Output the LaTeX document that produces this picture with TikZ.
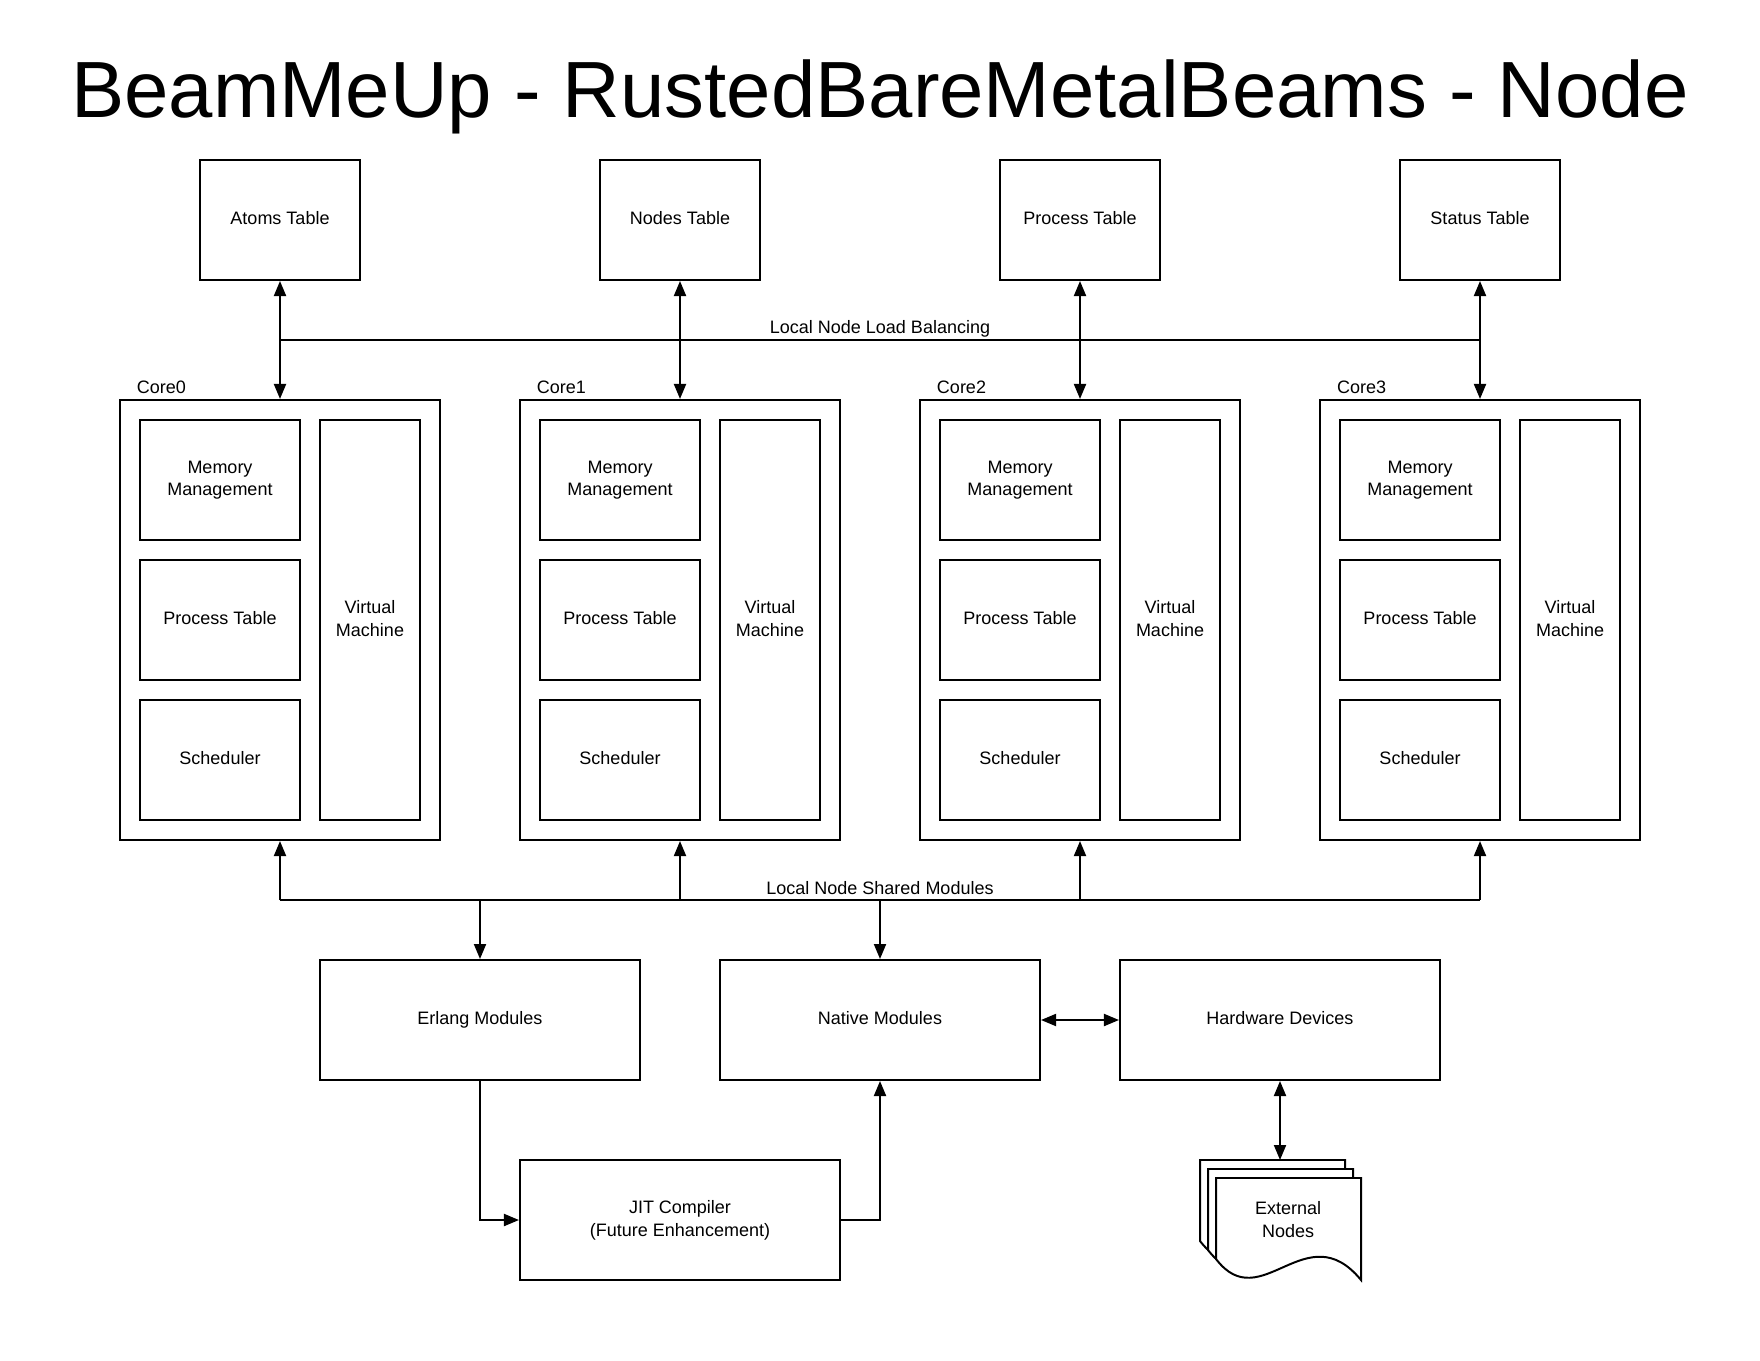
\documentclass[tikz,border=0pt]{standalone}
\usepackage{fontspec}
\setmainfont{Liberation Sans}
\usetikzlibrary{arrows.meta}

\begin{document}
\begin{tikzpicture}[x=0.025cm,y=0.025cm,line width=1.4pt,
	every node/.style={inner sep=0pt, font=\fontsize{12.8}{16}\selectfont},
	block/.style={draw, align=center, text depth=0.22em, minimum width=4cm, minimum height=3cm},
	corebox/.style={draw, minimum width=8cm, minimum height=11cm},
	vmbox/.style={draw, align=center, text depth=0.22em, minimum width=2.5cm, minimum height=10cm},
	modbox/.style={draw, align=center, text depth=0.22em, minimum width=8cm, minimum height=3cm},
	arr/.style={-{Triangle[length=0.375cm,width=0.3cm]}},
	darr/.style={{Triangle[length=0.375cm,width=0.3cm]}-{Triangle[length=0.375cm,width=0.3cm]}}]
		\useasboundingbox (0,0) rectangle (1760,-1360);
		\node [anchor=base, font=\fontsize{56.7}{60}\selectfont] (title) at (880,-118) {BeamMeUp - RustedBareMetalBeams - Node};
		\coordinate (lbbus) at (0,-340);
		\coordinate (smbus) at (0,-900);
		\foreach \i/\x/\t/\tab in {0/280/Atoms Table/atoms, 1/680/Nodes Table/nodes, 2/1080/Process Table/proctab, 3/1480/Status Table/status} {
			\node [block] (\tab) at (\x,-220) {\t};
			\node [corebox] (core\i) at (\x,-620) {};
			\node [anchor=base west] (corelbl\i) at (\x-144,-393) {Core\i};
			\node [block] (mem\i) at (\x-60,-480) {Memory\\Management};
			\node [block] (pt\i) at (\x-60,-620) {Process Table};
			\node [block] (sch\i) at (\x-60,-760) {Scheduler};
			\node [vmbox] (vm\i) at (\x+90,-620) {Virtual\\Machine};
			\draw [darr] (\tab.south) -- (core\i.north);
			\draw [arr] (core\i.south |- smbus) -- (core\i.south);
		}
		\draw (atoms.south |- lbbus) -- (status.south |- lbbus);
		\node [anchor=base] (lblbal) at (880,-333) {Local Node Load Balancing};
		\draw (core0.south |- smbus) -- (core3.south |- smbus);
		\node [anchor=base] (lblshared) at (880,-894) {Local Node Shared Modules};
		\node [modbox] (erl) at (480,-1020) {Erlang Modules};
		\node [modbox] (native) at (880,-1020) {Native Modules};
		\node [modbox] (hw) at (1280,-1020) {Hardware Devices};
		\node [modbox] (jit) at (680,-1220) {JIT Compiler\\(Future Enhancement)};
		\draw [arr] (erl.north |- smbus) -- (erl.north);
		\draw [arr] (native.north |- smbus) -- (native.north);
		\draw [darr] (native) -- (hw);
		\draw [arr] (erl.south) |- (jit.west);
		\draw [arr] (jit.east) -| (native.south);
		\foreach \dx/\dy in {0/0, 8/-9, 16/-18}
			\draw [fill=white, shift={(1200+\dx,-1160+\dy)}] (0,0) -- (145,0) -- (145,-102) .. controls (90,-35) and (45,-140) .. (0,-81) -- cycle;
		\node [align=center, text depth=0.22em] (ext) at (1288,-1221) {External\\Nodes};
		\coordinate (exttop) at (1280,-1160);
		\draw [darr] (hw.south) -- (exttop);
	\end{tikzpicture}
\end{document}
